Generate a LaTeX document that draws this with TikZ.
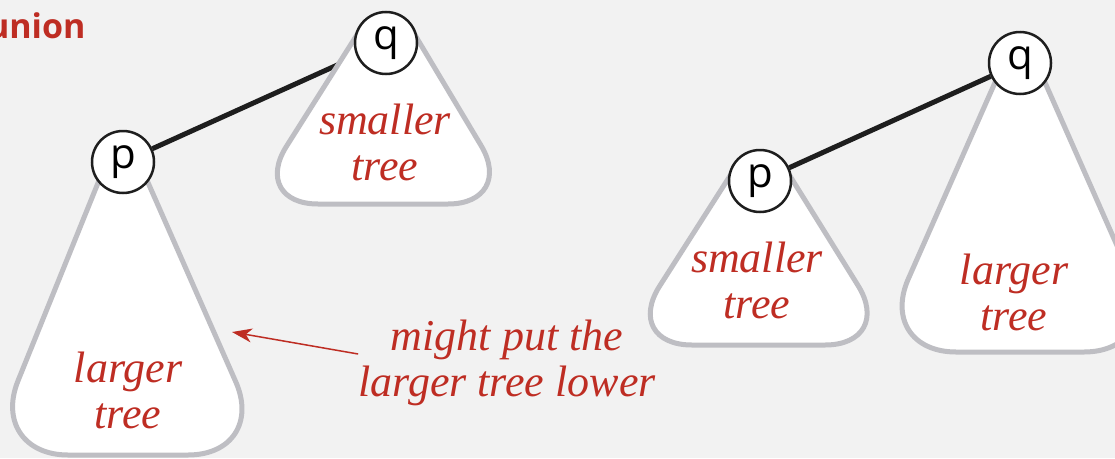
\documentclass[tikz,border=0pt]{standalone}
\usepackage{fontspec}
\setsansfont{Open Sans}
\newfontfamily\labelfont{Liberation Serif}
\usepackage{tikz}
\usetikzlibrary{calc,arrows.meta,backgrounds}
\definecolor{bgpanel}{RGB}{242,242,242}
\definecolor{labelred}{RGB}{190,45,35}
\definecolor{outlinegray}{RGB}{190,190,195}
\definecolor{linkblack}{RGB}{30,30,30}
\tikzstyle{treenode} = [circle, draw=linkblack, line width=2.5pt, fill=white,
                     minimum size=62pt, inner sep=0pt,
                     font=\sffamily\fontsize{42}{42}\selectfont]
\tikzstyle{treeshape} = [draw=outlinegray, line width=5pt, fill=white, line join=round]
\tikzstyle{link} = [draw=linkblack, line width=5pt]
\tikzstyle{treelabel} = [text=labelred, align=center, inner sep=0pt,
                     font=\labelfont\itshape\fontsize{44}{46}\selectfont]
\tikzstyle{pointer} = [draw=labelred, line width=1.5pt,
                     -{Stealth[length=20pt,width=14pt,inset=6pt]}]
% tree outline: top left, bottom left, bottom right, top right, corner cut
\newcommand{\treeblob}[5]{%
  \draw[treeshape] (#1) -- ($(#2)!#5!(#1)$)
    .. controls ($(#2)!0.45*#5!(#1)$) and ($(#2)!0.45*#5!(#3)$) .. ($(#2)!#5!(#3)$)
    -- ($(#3)!#5!(#2)$)
    .. controls ($(#3)!0.45*#5!(#2)$) and ($(#3)!0.45*#5!(#4)$) .. ($(#3)!#5!(#4)$)
    -- (#4) -- cycle;}
\begin{document}
\begin{tikzpicture}[x=1pt,y=-1pt]
\useasboundingbox (0,0) rectangle (1115,458);
% Title
\node[anchor=base east, text=labelred, font=\sffamily\bfseries\fontsize{34}{34}\selectfont] (title) at (89,38) {union};
% Roots
\node[treenode] (p1) at (123,162) {p};
\node[treenode] (q1) at (386,43) {q};
\node[treenode] (p2) at (760,181) {p};
\node[treenode] (q2) at (1020,63) {q};
% Tree corners
\coordinate (tlA) at (100,178);
\coordinate (blA) at (-12,455);
\coordinate (brA) at (268,455);
\coordinate (trA) at (146,178);
\coordinate (tlB) at (360,30);
\coordinate (blB) at (250,204);
\coordinate (brB) at (516,204);
\coordinate (trB) at (412,30);
\coordinate (tlC) at (735,168);
\coordinate (blC) at (622,345);
\coordinate (brC) at (895,345);
\coordinate (trC) at (785,168);
\coordinate (tlD) at (997,78);
\coordinate (blD) at (876,352);
\coordinate (brD) at (1164,352);
\coordinate (trD) at (1043,78);
\begin{scope}[on background layer]
\clip (0,0) rectangle (1115,458);
\fill[bgpanel] (0,0) rectangle (1115,458);
% Links
\draw[link] (p1) -- (q1);
\draw[link] (p2) -- (q2);
% Trees
\treeblob{tlA}{blA}{brA}{trA}{80pt}
\treeblob{tlB}{blB}{brB}{trB}{68pt}
\treeblob{tlC}{blC}{brC}{trC}{70pt}
\treeblob{tlD}{blD}{brD}{trD}{80pt}
\end{scope}
% Labels
\node[treelabel] (sizeA) at (128,390) {larger\\tree};
\node[treelabel] (sizeB) at (385,142) {smaller\\tree};
\node[treelabel] (sizeC) at (757,280) {smaller\\tree};
\node[treelabel] (sizeD) at (1014,292) {larger\\tree};
% Note
\node[treelabel] (note) at (507,363) {might put the\\larger tree lower};
\coordinate (tip) at (232,332);
\draw[pointer] ([yshift=9pt]note.west) -- (tip);
\end{tikzpicture}
\end{document}
